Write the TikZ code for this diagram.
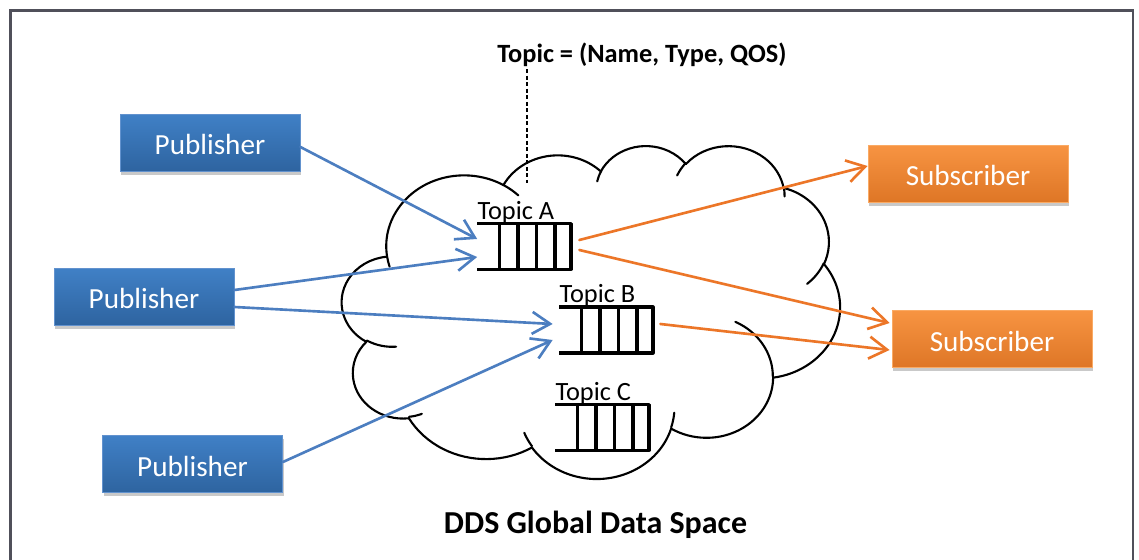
\documentclass[tikz,border=0pt]{standalone}
\usepackage{fontspec}
\setmainfont{Carlito}
\usetikzlibrary{arrows.meta,calc,shadows}

\definecolor{pubtop}{RGB}{64,128,198}
\definecolor{pubbot}{RGB}{46,100,160}
\definecolor{pubedge}{RGB}{98,146,206}
\definecolor{subtop}{RGB}{247,148,66}
\definecolor{subbot}{RGB}{222,118,38}
\definecolor{subedge}{RGB}{250,170,100}
\definecolor{publine}{RGB}{76,126,192}
\definecolor{subline}{RGB}{236,118,40}
\definecolor{framegray}{RGB}{80,80,90}

\tikzset{
  box/.style={minimum height=1.14cm, inner sep=0pt, text=white,
    font=\fontsize{16.6}{20}\selectfont, text height=14pt, text depth=0pt,
    line width=0.5pt,
    drop shadow={shadow xshift=0.6pt, shadow yshift=-2pt, opacity=0.3, fill=black!70}},
  pub/.style={box, minimum width=3.6cm, top color=pubtop, bottom color=pubbot, draw=pubedge},
  sub/.style={box, minimum width=4cm, top color=subtop, bottom color=subbot, draw=subedge},
  queue/.style={minimum width=1.86cm, minimum height=0.9cm, inner sep=0pt},
  qline/.style={line width=2pt, line join=round},
  topiclabel/.style={font=\fontsize{15}{17}\selectfont, inner sep=0pt, anchor=base west},
  cloudline/.style={line width=1.2pt, line cap=round},
  pubarrow/.style={publine, line width=1.5pt, line cap=round,
    -{Straight Barb[length=3.6mm,width=4.4mm]}},
  subarrow/.style={subline, line width=1.5pt, line cap=round,
    -{Straight Barb[length=3.6mm,width=4.4mm]}},
}

\begin{document}
\begin{tikzpicture}[x=0.02cm, y=-0.02cm]
\useasboundingbox (0,0) rectangle (1139,560);
% outer frame, runs off the bottom
\draw[framegray, line width=1.3pt] (10.5,575) -- (10.5,10.5) -- (1133,10.5) -- (1133,575);

% the data space cloud: 11 elliptic bumps in a 432 x 432 box
\begin{scope}[shift={(342,145)}, x=0.023056cm, y=-0.015417cm]
  \coordinate (k0) at (39.00,143.70);
  \foreach \rx/\ry/\st/\sw [count=\i] in {
      67.53/91.90/-190.4875/123.7805, 53.33/72.67/-144.1024/89.9452,
      43.65/59.45/-145.8079/99.7230, 48.57/65.95/-130.9861/117.2417,
      53.33/72.73/-78.7089/109.0269, 67.75/92.20/-46.2673/130.2690,
      57.85/78.67/0.6250/114.0333, 67.52/92.15/22.4516/115.1726,
      77.20/105.43/66.2426/75.7110, 43.60/59.18/-274.9421/146.7356,
      43.45/59.45/-246.8285/152.5189}{
    \pgfmathsetmacro\arcA{atan2(\rx*sin(\st),\ry*cos(\st))}
    \pgfmathsetmacro\arcB{atan2(\rx*sin(\st+\sw),\ry*cos(\st+\sw))}
    \pgfmathsetmacro\arcB{\arcB<\arcA ? \arcB+360 : \arcB}
    \pgfmathtruncatemacro\prev{\i-1}
    \draw[cloudline] (k\prev) arc[start angle=\arcA, end angle=\arcB,
      x radius=\rx, y radius=\ry] coordinate (k\i);
  }
  % inner hooks where the bumps meet
  \foreach \px/\py/\rx/\ry/\st/\sw in {
      46.93/261.77/43.45/59.45/86.742/26.4295,
      69.28/348.99/43.60/59.18/73.6105/11.4475,
      164.78/390.90/67.52/92.15/137.6241/14.0811,
      288.27/347.51/67.52/92.15/6.4533/15.9984,
      341.29/229.54/57.85/78.67/-70.2924/70.9174,
      417.98/153.54/53.33/72.73/30.3180/27.7515,
      383.24/54.26/48.57/65.95/-13.7443/14.8589,
      290.78/39.52/48.57/65.95/-149.1815/18.1954,
      221.41/47.20/43.65/59.45/-163.4943/17.6864,
      140.00/51.92/67.53/91.90/-66.7070/12.3194,
      41.27/157.89/67.53/91.90/157.6544/11.8582}{
    \pgfmathsetmacro\arcA{atan2(\rx*sin(\st),\ry*cos(\st))}
    \pgfmathsetmacro\arcB{atan2(\rx*sin(\st+\sw),\ry*cos(\st+\sw))}
    \pgfmathsetmacro\arcB{\arcB<\arcA ? \arcB+360 : \arcB}
    \draw[cloudline] (\px,\py) arc[start angle=\arcA, end angle=\arcB,
      x radius=\rx, y radius=\ry];
  }
\end{scope}

% topic definition
\node[font=\fontsize{15}{18}\selectfont\bfseries, anchor=base, inner sep=1pt]
  (topicdef) at (642,63) {Topic = (Name, Type, QOS)};
\coordinate (defpin) at (527,183);
\draw[line width=0.9pt, dash pattern=on 2.4pt off 1.3pt] (defpin |- topicdef.south) -- (defpin);

% topic queues
\node[queue] (qA) at (524,246.5) {};
\node[queue] (qB) at (606,330) {};
\node[queue] (qC) at (602,427.5) {};
\foreach \q/\t in {qA/A,qB/B,qC/C}{
  \draw[qline] (\q.north west) -- (\q.north east) -- (\q.south east) -- (\q.south west);
  \foreach \f in {0.237,0.435,0.634,0.833}
    \draw[qline] ($(\q.north west)!\f!(\q.north east)$) -- ($(\q.south west)!\f!(\q.south east)$);
  \node[topiclabel] (lab\t) at ($(\q.north west)+(0,-4.5)$) {Topic \t};
}

% publishers and subscribers
\node[pub] (pub1) at (210,142.5) {Publisher};
\node[pub] (pub2) at (144,296.5) {Publisher};
\node[pub] (pub3) at (192.5,464) {Publisher};
\node[sub] (sub1) at (968,173.5) {Subscriber};
\node[sub] (sub2) at (992,339) {Subscriber};

\draw[pubarrow] ($(pub1.east)+(0,4.5)$) -- ($(qA.west)+(0,-7.5)$);
\draw[pubarrow] ($(pub2.east)+(0,-6.5)$) -- ($(qA.west)+(0,10.5)$);
\draw[pubarrow] ($(pub2.east)+(0,10.5)$) -- ($(qB.west)+(-6.5,-6)$);
\draw[pubarrow] ($(pub3.east)+(0,-2)$) -- ($(qB.west)+(-6.5,10)$);
\draw[subarrow] ($(qA.east)+(8.5,-6.5)$) -- ($(sub1.west)+(0,-7.5)$);
\draw[subarrow] ($(qA.east)+(8.5,3.5)$) -- ($(sub2.west)+(-2,-16)$);
\draw[subarrow] ($(qB.east)+(7.5,-6)$) -- ($(sub2.west)+(-2,11)$);

% caption
\node[font=\fontsize{18.2}{22}\selectfont\bfseries, anchor=base] (space) at (595.5,533)
  {DDS Global Data Space};
\end{tikzpicture}
\end{document}
